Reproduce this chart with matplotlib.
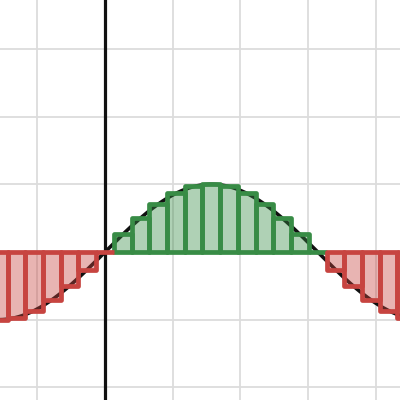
import matplotlib
matplotlib.use("Agg")
import matplotlib.pyplot as plt
import numpy as np
from matplotlib.patches import Rectangle

# Riemann-style rectangles under y = sin(x), one per sample point k*pi/12, k = -6..18
sample_k = list(range(-6, 19))
heights = [-1.0, -0.97, -0.87, -0.71, -0.5, -0.26, 0.0,
           0.26, 0.5, 0.71, 0.87, 0.97, 1.0, 0.97, 0.87, 0.71, 0.5, 0.26, 0.0,
           -0.26, -0.5, -0.71, -0.87, -0.97, -1.0]
signs = ["neg"] * 7 + ["pos"] * 12 + ["neg"] * 6

GREEN = "#388c46"
RED = "#c74440"

step = np.pi / 12


def curve(x):
    return np.sin(x)


fig = plt.figure(figsize=(4, 4), dpi=100)
ax = fig.add_axes([0, 0, 1, 1])
ax.set_xlim(-1.551, 4.357)
ax.set_ylim(-2.186, 3.722)

# grid
for g in range(-1, 5):
    ax.axvline(g, color="#dcdcdc", lw=1.3, zorder=0)
for g in range(-2, 4):
    ax.axhline(g, color="#dcdcdc", lw=1.3, zorder=0)
ax.axhline(0, color="#111111", lw=2.2, zorder=1)
ax.axvline(0, color="#111111", lw=2.3, zorder=1)

xs = np.linspace(-2, 5, 600)
ax.plot(xs, curve(xs), color="#111111", lw=2.6, zorder=2)

# green set first, red set drawn over it
for k, h, s in zip(sample_k, heights, signs):
    c = GREEN if s == "pos" else RED
    z = 3 if s == "pos" else 5
    left = k * step - step / 2
    ax.add_patch(Rectangle((left, 0), step, h, facecolor=c, alpha=0.4,
                           edgecolor="none", zorder=z))
    ax.add_patch(Rectangle((left, 0), step, h, facecolor="none",
                           edgecolor=c, lw=3.4, joinstyle="round", zorder=z + 1))

ax.axis("off")
fig.savefig("out.png", dpi=100)
